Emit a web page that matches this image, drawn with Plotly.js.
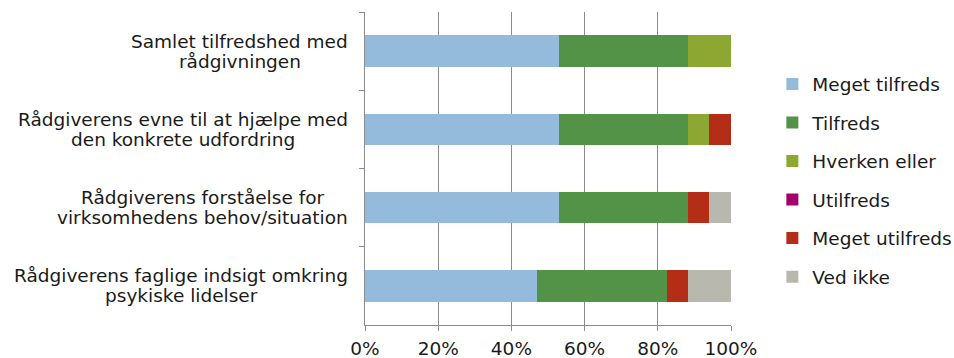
<!DOCTYPE html>
<html>
<head>
<meta charset="utf-8">
<script src="https://cdn.plot.ly/plotly-3.0.1.min.js"></script>
<style>
  html, body { margin: 0; padding: 0; background: #fff; }
  #chart { width: 954px; height: 358px; }
</style>
</head>
<body>
<div id="chart"></div>
<script>
// Survey questions (top to bottom)
const categories = [
  "Samlet tilfredshed med<br>rådgivningen",
  "Rådgiverens evne til at hjælpe med<br>den konkrete udfordring",
  "Rådgiverens forståelse for<br>virksomhedens behov/situation",
  "Rådgiverens faglige indsigt omkring<br>psykiske lidelser"
];

// Answer shares in percent, one array per answer option
const megetTilfreds  = [52.9, 52.9, 52.9, 47.1];
const tilfreds       = [35.3, 35.3, 35.3, 35.3];
const hverkenEller   = [11.8, 5.9, 0, 0];
const utilfreds      = [0, 0, 0, 0];
const megetUtilfreds = [0, 5.9, 5.9, 5.9];
const vedIkke        = [0, 0, 5.9, 11.8];

const seriesNames = ["Meget tilfreds", "Tilfreds", "Hverken eller", "Utilfreds", "Meget utilfreds", "Ved ikke"];
const seriesValues = [megetTilfreds, tilfreds, hverkenEller, utilfreds, megetUtilfreds, vedIkke];
const seriesColors = ["#94BADC", "#529347", "#8CA832", "#A6006A", "#B42D17", "#B9B8AE"];

const xTicks = [0, 20, 40, 60, 80, 100];
const xTickLabels = ["0%", "20%", "40%", "60%", "80%", "100%"];

const FONT_FAMILY = "DejaVu Sans, Verdana, sans-serif";
const FONT_SIZE = 18.5;
const font = { family: FONT_FAMILY, size: FONT_SIZE, color: "#1a1a1a" };

const traces = seriesNames.map((name, i) => ({
  type: "bar",
  orientation: "h",
  name: name,
  x: seriesValues[i],
  y: categories,
  marker: { color: seriesColors[i], line: { width: 0 } },
  legendgroup: "g" + i,
  hoverinfo: "name+x"
}));

// Measure text so each two-line label can be centred on its widest line,
// with a compact line spacing.
const ctx = document.createElement("canvas").getContext("2d");
ctx.font = FONT_SIZE + "px " + FONT_FAMILY;
const LABEL_GAP = 17;     // space between label block and axis
const LINE_STEP = 20;     // vertical distance between label lines

const annotations = [];
categories.forEach(c => {
  const lines = c.split("<br>");
  const blockWidth = Math.max(...lines.map(l => ctx.measureText(l).width));
  lines.forEach((line, k) => {
    annotations.push({
      xref: "paper", yref: "y",
      x: 0, y: c,
      xanchor: "center", yanchor: "middle",
      xshift: -LABEL_GAP - blockWidth / 2,
      yshift: (lines.length - 1) * LINE_STEP / 2 - k * LINE_STEP,
      text: line,
      showarrow: false,
      font: font
    });
  });
});

const layout = {
  width: 954,
  height: 358,
  margin: { l: 365, r: 223, t: 12, b: 33, pad: 0, autoexpand: false },
  paper_bgcolor: "#fff",
  plot_bgcolor: "#fff",
  barmode: "stack",
  bargap: 0.6,
  font: font,
  showlegend: true,
  legend: {
    x: 1.113, xanchor: "left",
    y: 0.462, yanchor: "middle",
    font: font,
    tracegroupgap: 11.5,
    traceorder: "grouped",
    bgcolor: "rgba(0,0,0,0)"
  },
  xaxis: {
    range: [0, 100],
    tickvals: xTicks,
    ticktext: xTickLabels,
    showgrid: true,
    gridcolor: "#8c8c8c",
    gridwidth: 1,
    showline: true,
    linecolor: "#8c8c8c",
    linewidth: 1,
    ticks: "outside",
    ticklen: 5,
    tickcolor: "#8c8c8c",
    tickfont: font,
    ticklabelstandoff: 2,
    zeroline: false,
    fixedrange: true
  },
  yaxis: {
    type: "category",
    categoryorder: "array",
    categoryarray: categories,
    range: [3.5, -0.5],
    showticklabels: false,
    tickson: "boundaries",
    ticks: "outside",
    ticklen: 5,
    tickcolor: "#8c8c8c",
    showgrid: false,
    showline: true,
    linecolor: "#8c8c8c",
    linewidth: 1,
    zeroline: false,
    fixedrange: true
  },
  annotations: annotations
};

Plotly.newPlot("chart", traces, layout, { displayModeBar: false, staticPlot: true });
</script>
</body>
</html>
